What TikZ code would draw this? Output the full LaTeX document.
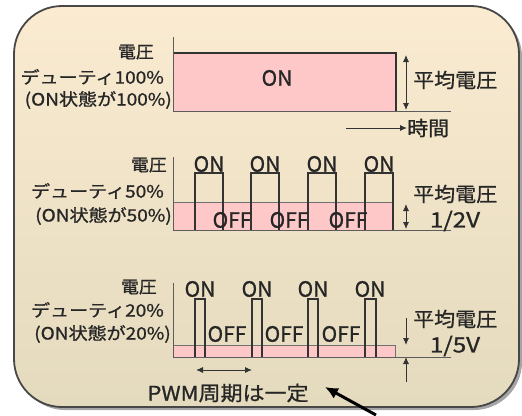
\documentclass[tikz,border=0pt]{standalone}
\usepackage{fontspec}
\usepackage{graphicx}
\setmainfont{Noto Sans CJK JP}[FakeBold=0.9]
\usetikzlibrary{arrows.meta}
\definecolor{bgtop}{HTML}{FAEBD1}
\definecolor{bgbot}{HTML}{E4DABD}
\definecolor{pinkf}{HTML}{FFC8C8}
\definecolor{wave}{HTML}{333333}
\newcommand{\hstretch}[2]{\scalebox{#1}[1]{#2}}
\begin{document}
\begin{tikzpicture}[x=1pt,y=-1pt,
  lbl/.style={anchor=east,inner sep=0pt,text=black!85,font=\fontsize{17}{17}\selectfont},
  rlbl/.style={anchor=west,inner sep=0pt,text=black!85,font=\fontsize{20}{20}\selectfont},
  onoff/.style={inner sep=0pt,text=black!85,font=\fontsize{21}{21}\selectfont},
  axisl/.style={draw=wave!80,line width=0.9pt},
  wavel/.style={draw=wave,line width=1.4pt},
  pinkbox/.style={fill=pinkf,draw=wave!70,line width=0.8pt},
  dim/.style={draw=wave,line width=0.9pt,{Latex[length=7pt,width=6pt]}-{Latex[length=7pt,width=6pt]}},
  onearrow/.style={draw=wave,line width=0.9pt,-{Latex[length=7pt,width=6pt]}}]
\useasboundingbox (0,0) rectangle (522,415);
% frame
\fill[black,opacity=0.35,rounded corners=48pt] (17,9) rectangle (522,410);
\shade[top color=bgtop,bottom color=bgbot,rounded corners=48pt] (14,6) rectangle (519,407);
\draw[draw=wave!90,line width=1.8pt,rounded corners=48pt] (14,6) rectangle (519,407);

% ---------- panel 1 ----------
\fill[pinkf] (173,53) rectangle (396,111);
\draw[wavel] (173,53) -- (396,53) -- (396,111);
\draw[axisl] (173,37) -- (173,111) -- (451,111);
\node[lbl] (v1) at (154,52) {\hstretch{1.05}{電圧}};
\node[lbl] (d1) at (164,77) {\hstretch{1.12}{デューティ100\%}};
\node[lbl] (s1) at (172,100) {\hstretch{1.12}{(ON状態が100\%)}};
\node[onoff] (on1) at (277,78) {ON};
\coordinate (a1t) at (406,55);
\coordinate (a1b) at (406,110);
\draw[dim] (a1t) -- (a1b);
\node[rlbl] (m1) at (413,80) {\hstretch{1.05}{平均電圧}};
\node[rlbl] (t1) at (407,128) {\hstretch{1.05}{時間}};
\coordinate (ta) at (346,128);
\draw[onearrow] (ta) -- (t1.west);

% ---------- panel 2 ----------
\draw[pinkbox] (173,202) rectangle (393,230);
\foreach \s/\e in {195/223,251/279,308/336,365/393}{
  \draw[wavel] (\s,230) -- (\s,173) -- (\e,173) -- (\e,230);
}
\draw[axisl] (173,157) -- (173,230) -- (451,230);
\node[lbl] (v2) at (167,165) {\hstretch{1.05}{電圧}};
\node[lbl] (d2) at (164,191) {\hstretch{1.12}{デューティ50\%}};
\node[lbl] (s2) at (172,216) {\hstretch{1.12}{(ON状態が50\%)}};
\foreach \x/\n in {209/a,265/b,322/c,379/d}{
  \node[onoff] (on2\n) at (\x,164) {ON};
}
\foreach \x/\n in {232/a,289/b,348/c}{
  \node[onoff] (off2\n) at (\x,220) {OFF};
}
\coordinate (a2t) at (406,204);
\coordinate (a2b) at (406,229);
\draw[dim] (a2t) -- (a2b);
\node[rlbl] (m2) at (413,194) {\hstretch{1.05}{平均電圧}};
\node[onoff] (h2) at (455,221) {\hstretch{1.15}{1/2V}};

% ---------- panel 3 ----------
\draw[pinkbox] (173,345) rectangle (395,357);
\foreach \s/\e in {195/205,252/262,308/318,365/376}{
  \draw[wavel] (\s,357) -- (\s,299) -- (\e,299) -- (\e,357);
}
\draw[axisl] (173,283) -- (173,357) -- (451,357);
\node[lbl] (v3) at (157,287) {\hstretch{1.05}{電圧}};
\node[lbl] (d3) at (164,310) {\hstretch{1.12}{デューティ20\%}};
\node[lbl] (s3) at (171,334) {\hstretch{1.12}{(ON状態が20\%)}};
\foreach \x/\n in {200/a,257/b,313/c,370/d}{
  \node[onoff] (on3\n) at (\x,289) {ON};
}
\foreach \x/\n in {227/a,284/b,341/c}{
  \node[onoff] (off3\n) at (\x,334) {OFF};
}
\coordinate (a3a) at (406,318);
\coordinate (a3b) at (406,345);
\coordinate (a3c) at (406,382);
\coordinate (a3d) at (406,357);
\draw[onearrow] (a3a) -- (a3b);
\draw[onearrow] (a3c) -- (a3d);
\node[rlbl] (m3) at (413,319) {\hstretch{1.05}{平均電圧}};
\node[onoff] (h3) at (455,346) {\hstretch{1.15}{1/5V}};
\coordinate (pa) at (196,370);
\coordinate (pb) at (252,370);
\draw[dim] (pa) -- (pb);
\node[inner sep=0pt,text=black!85,font=\fontsize{20}{20}\selectfont] (pwm) at (228,393) {\hstretch{1.1}{PWM周期は一定}};
\coordinate (bt) at (376,415);
\coordinate (btip) at (325,387);
\draw[black,line width=3pt,-{Latex[length=13pt,width=12pt]}] (bt) -- (btip);
\end{tikzpicture}
\end{document}
